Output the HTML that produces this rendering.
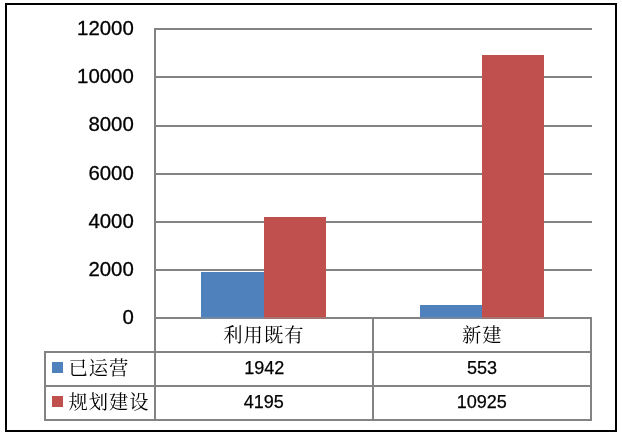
<!DOCTYPE html>
<html><head><meta charset="utf-8">
<style>
html,body{margin:0;padding:0;background:#fff;}
body{width:622px;height:432px;overflow:hidden;position:relative;}
svg{position:absolute;left:0;top:0;display:block;}
.ax{font-family:"Liberation Sans",sans-serif;font-size:20.4px;fill:#000;text-anchor:end;stroke:#000;stroke-width:0.3px;}
.val{font-family:"Liberation Sans",sans-serif;font-size:18.05px;fill:#000;text-anchor:middle;stroke:#000;stroke-width:0.25px;}
.cj{font-family:"Liberation Serif","Noto Serif CJK SC",serif;font-size:19.3px;letter-spacing:1px;font-weight:400;fill:#000;}
</style></head><body>
<svg width="622" height="432" viewBox="0 0 622 432">
<rect x="0" y="0" width="622" height="432" fill="#fff"/>
<!-- outer border -->
<rect x="6" y="4" width="610" height="427" fill="none" stroke="#000" stroke-width="2"/>
<!-- gridlines -->
<g fill="#838383">
<rect x="154" y="28" width="438" height="2"/>
<rect x="154" y="76" width="438" height="2"/>
<rect x="154" y="125" width="438" height="2"/>
<rect x="154" y="173" width="438" height="2"/>
<rect x="154" y="221" width="438" height="2"/>
<rect x="154" y="269" width="438" height="2"/>
<rect x="154" y="317" width="438" height="2"/>
</g>
<!-- bars -->
<rect x="201" y="272" width="63" height="47" fill="#4F81BD"/>
<rect x="264" y="217" width="62" height="102" fill="#C0504D"/>
<rect x="420" y="305" width="62" height="14" fill="#4F81BD"/>
<rect x="482" y="55" width="62" height="264" fill="#C0504D"/>
<!-- axis line tint over bars -->
<rect x="201" y="317" width="125" height="2" fill="#909090" opacity="0.6"/>
<rect x="420" y="317" width="124" height="2" fill="#909090" opacity="0.6"/>
<!-- axis + table lines -->
<g fill="#838383">
<rect x="154" y="28" width="2" height="393"/>
<rect x="44" y="351" width="548" height="2"/>
<rect x="44" y="385" width="548" height="2"/>
<rect x="44" y="419" width="548" height="2"/>
<rect x="44" y="351" width="2" height="70"/>
<rect x="372" y="317" width="2" height="104"/>
<rect x="590" y="317" width="2" height="104"/>
</g>
<!-- axis labels -->
<text class="ax" x="133.8" y="35.0">12000</text>
<text class="ax" x="133.8" y="83.0">10000</text>
<text class="ax" x="133.8" y="131.0">8000</text>
<text class="ax" x="133.8" y="180.0">6000</text>
<text class="ax" x="133.8" y="228.0">4000</text>
<text class="ax" x="133.8" y="276.0">2000</text>
<text class="ax" x="133.8" y="324.0">0</text>
<!-- category labels -->
<text class="cj" x="263.9" y="341.6" text-anchor="middle">利用既有</text>
<text class="cj" x="482.3" y="341.6" text-anchor="middle">新建</text>
<!-- legend -->
<rect x="52" y="362" width="11" height="11" fill="#4F81BD"/>
<rect x="52" y="396" width="11" height="11" fill="#C0504D"/>
<text class="cj" x="68.5" y="375.1">已运营</text>
<text class="cj" x="68.5" y="408.9">规划建设</text>
<!-- values -->
<text class="val" x="264.2" y="373.7">1942</text>
<text class="val" x="263.7" y="407.9">4195</text>
<text class="val" x="482" y="373.7">553</text>
<text class="val" x="481.8" y="407.9">10925</text>
</svg>
</body></html>
